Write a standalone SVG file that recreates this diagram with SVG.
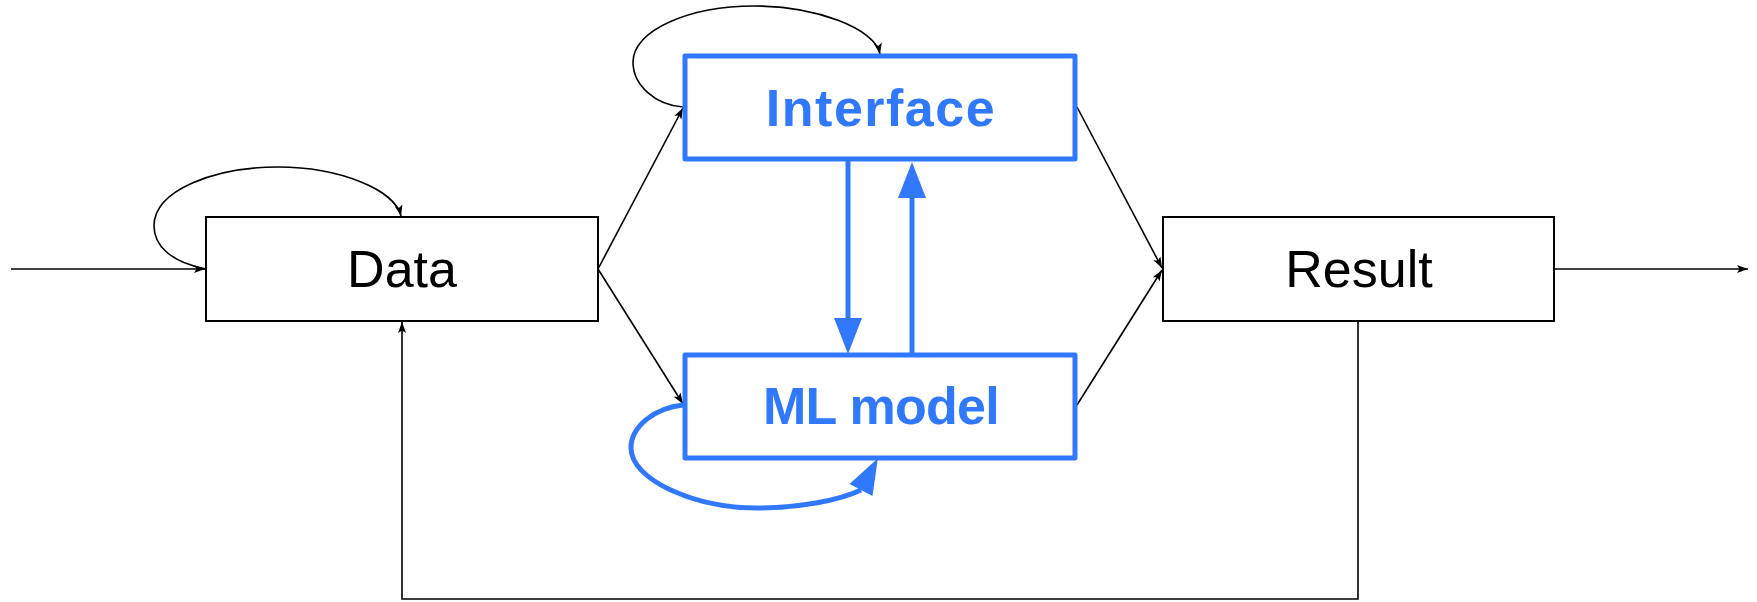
<svg xmlns="http://www.w3.org/2000/svg" width="1757" height="602" viewBox="0 0 1757 602">
  <style>
    .box { fill: #ffffff; stroke: #000000; stroke-width: 2; }
    .bbox { fill: #ffffff; stroke: #3079ff; stroke-width: 5; stroke-linejoin: round; }
    .lbl { font-family: "Liberation Sans", Arial, sans-serif; font-size: 52px; fill: #000000; text-anchor: middle; }
    .blbl { font-family: "Liberation Sans", Arial, sans-serif; font-size: 52px; font-weight: bold; fill: #3079ff; text-anchor: middle; }
    .edge { fill: none; stroke: #000000; stroke-width: 1.6; }
    .bedge { fill: none; stroke: #3079ff; stroke-width: 5; }
  </style>
  <defs>
    <marker id="arr" markerUnits="userSpaceOnUse" markerWidth="12" markerHeight="8" refX="11" refY="4" orient="auto" overflow="visible">
      <path d="M0,0 L11,4 L0,8 L2.5,4 z" fill="#000000"/>
    </marker>
    <marker id="barr" markerUnits="userSpaceOnUse" markerWidth="36" markerHeight="28" refX="0" refY="14" orient="auto" overflow="visible">
      <path d="M0,0 L36,14 L0,28 z" fill="#3079ff"/>
    </marker>
    <marker id="barr-loop" markerUnits="userSpaceOnUse" markerWidth="36" markerHeight="26" refX="0" refY="13" orient="-62" overflow="visible">
      <path d="M0,0 L36,13 L0,26 z" fill="#3079ff"/>
    </marker>
  </defs>

  <g id="connectors">
    <path class="edge" d="M11,269 L205,269" marker-end="url(#arr)"/>
    <path class="edge" d="M206,269 C170,262 154,245 154,226 C154,190 215,167 278,167 C340,167 395,190 401,216" marker-end="url(#arr)"/>
    <path class="edge" d="M598,269 L683,108" marker-end="url(#arr)"/>
    <path class="edge" d="M598,269 L683,404" marker-end="url(#arr)"/>
    <path class="edge" d="M683,107 C655,105 633,85 633,62 C633,30 690,6 754,6 C815,6 875,28 880,54" marker-end="url(#arr)"/>
    <path class="bedge" d="M848,159 L848,318" marker-end="url(#barr)"/>
    <path class="bedge" d="M912,354 L912,198" marker-end="url(#barr)"/>
    <path class="bedge" d="M683,405 C655,408 631,426 631,448 C631,480 695,508 757,508 C800,508 840,500 861,490" marker-end="url(#barr-loop)"/>
    <path class="edge" d="M1077,107 L1162,268" marker-end="url(#arr)"/>
    <path class="edge" d="M1077,405 L1162,270" marker-end="url(#arr)"/>
    <path class="edge" d="M1554,269 L1748,269" marker-end="url(#arr)"/>
    <path class="edge" d="M1358,321 L1358,599 L402,599 L402,322" marker-end="url(#arr)"/>
  </g>

  <g id="data">
    <rect class="box" x="206" y="217" width="392" height="104"/>
    <text class="lbl" x="402" y="287">Data</text>
  </g>
  <g id="interface">
    <rect class="bbox" x="685" y="56" width="390" height="103"/>
    <text class="blbl" x="881" y="126" letter-spacing="1.5">Interface</text>
  </g>
  <g id="ml-model">
    <rect class="bbox" x="685" y="355" width="390" height="103"/>
    <text class="blbl" x="881" y="424" letter-spacing="-0.7">ML model</text>
  </g>
  <g id="result">
    <rect class="box" x="1163" y="217" width="391" height="104"/>
    <text class="lbl" x="1359" y="287">Result</text>
  </g>
</svg>
